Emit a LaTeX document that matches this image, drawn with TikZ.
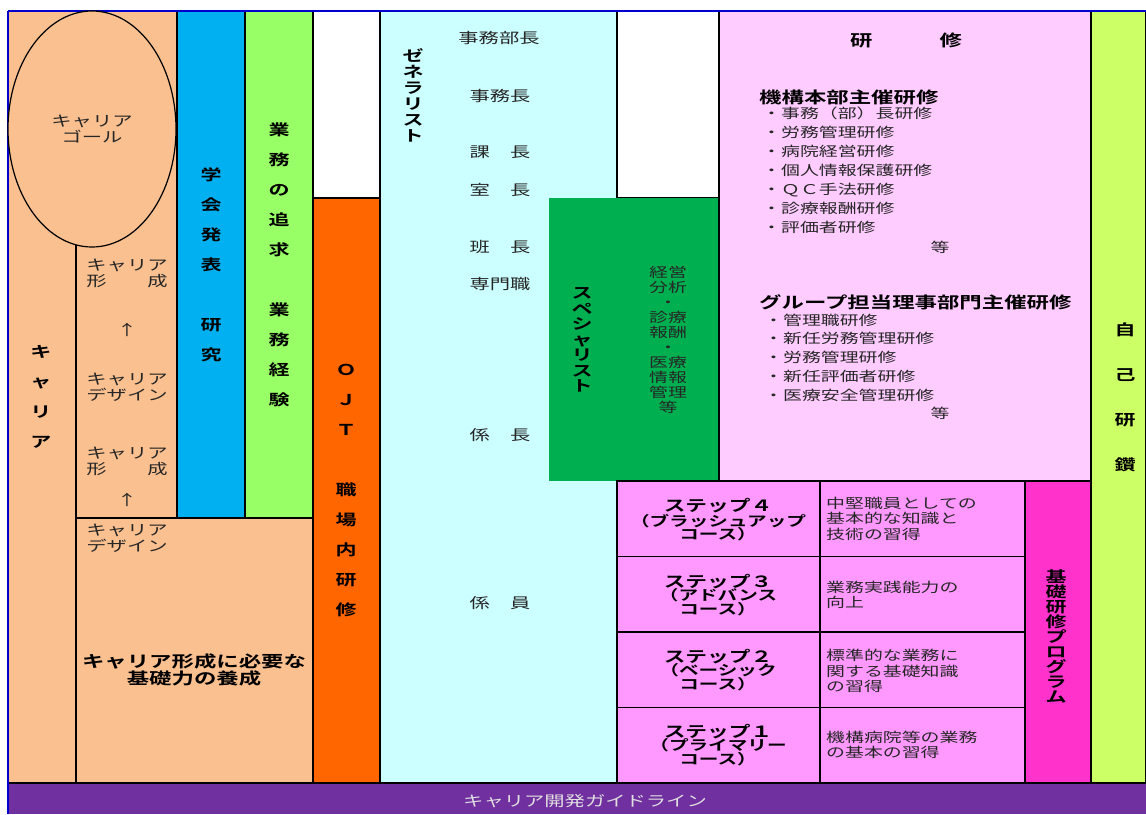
\documentclass[tikz,border=0pt]{standalone}
\usepackage{fontspec}
\usetikzlibrary{shapes.geometric}
\newfontfamily\jp[FakeStretch=1.4,BoldFont={* Bold}]{Noto Sans CJK JP}
\definecolor{peach}{HTML}{FAC090}
\definecolor{skyb}{HTML}{00B0F0}
\definecolor{lgreen}{HTML}{99FF66}
\definecolor{orng}{HTML}{FF6600}
\definecolor{cyanl}{HTML}{CCFFFF}
\definecolor{sgreen}{HTML}{00B050}
\definecolor{pinkl}{HTML}{FFCCFF}
\definecolor{ygreen}{HTML}{CCFF66}
\definecolor{stepc}{HTML}{FF99FF}
\definecolor{mag}{HTML}{FF33CC}
\definecolor{purp}{HTML}{7030A0}
\definecolor{dblue}{HTML}{0000CC}
\tikzset{
  base/.style={inner sep=0pt, align=center},
  reg/.style={base, font=\jp\fontsize{14.5}{#1}\selectfont, text=black!85},
  reg/.default=16,
  regs/.style={base, font=\jp\fontsize{13.5}{#1}\selectfont, text=black!85},
  regs/.default=15.5,
  bld/.style={base, font=\jp\bfseries\fontsize{16}{#1}\selectfont},
  bld/.default=14,
  vb/.style={base, font=\jp\bfseries\fontsize{15}{#1}\selectfont},
  stp/.style={base, font=\jp\bfseries\fontsize{14}{13.5}\selectfont},
  bx/.style={draw=black, line width=1.5pt},
  bxt/.style={draw=black, line width=2.5pt},
}
\newcommand{\stepttl}[1]{{\fontsize{15.5}{13.5}\selectfont #1}}
\begin{document}
\begin{tikzpicture}[x=1pt,y=-1pt]
\useasboundingbox (0,0) rectangle (1146,814);
\fill[white] (0,0) rectangle (1146,814);
% left career columns
\fill[peach] (8,11) rectangle (313,783);
\draw[bx] (76,129) -- (76,783);
\draw[bx] (76,518) -- (313,518);
\filldraw[bx, fill=skyb] (177,11) rectangle (245,518);
\filldraw[bx, fill=lgreen] (245,11) rectangle (313,518);
\filldraw[bx, fill=orng] (313,198) rectangle (380,783);
% generalist
\filldraw[bxt, fill=cyanl] (380,11) rectangle (617,783);
\filldraw[bx, fill=white] (617,11) rectangle (719,198);
\fill[sgreen] (549,198) rectangle (719,481);
% training
\filldraw[bxt, fill=pinkl] (719,11) rectangle (1091,481);
\filldraw[bxt, fill=ygreen] (1091,11) rectangle (1146,783);
% steps
\foreach \ya/\yb in {481/556.5, 556.5/632, 632/707.5, 707.5/783}{
  \filldraw[bx, fill=stepc] (617,\ya) rectangle (820,\yb);
  \filldraw[bx, fill=stepc] (820,\ya) rectangle (1025,\yb);
}
\filldraw[bxt, fill=mag] (1025,481) rectangle (1091,783);
% bottom bar
\fill[purp] (8,783) rectangle (1146,814);
\draw[line width=2pt] (8,783) -- (1146,783);
\draw[dblue, line width=1.2pt] (8,11) -- (1146,11);
\draw[dblue, line width=2pt] (8,11) -- (8,814);
% goal ellipse
\node[ellipse, draw=black, line width=1.2pt, fill=peach, minimum width=168pt, minimum height=236pt, inner sep=0pt] (goal) at (92,129) {};
\node[reg] (goalt) at (92,129) {キャリア\\ゴール};
% column texts
\node[vb=30] (ca) at (41,397) {キ\\ャ\\リ\\ア};
\node[reg] (b1) at (127,273) {キャリア\\形　　成};
\node[reg] (b2) at (127,330) {↑};
\node[reg] (b3) at (127,387) {キャリア\\デザイン};
\node[reg] (b4) at (127,461) {キャリア\\形　　成};
\node[reg] (b5) at (127,500) {↑};
\node[reg] (b6) at (127,538) {キャリア\\デザイン};
\node[bld] (b7) at (194,670) {キャリア形成に必要な\\基礎力の養成};
\node[vb=30] (blu) at (211,265) {学\\会\\発\\表\\[30pt]研\\究};
\node[vb=30] (grn) at (279,265) {業\\務\\の\\追\\求\\[30pt]業\\務\\経\\験};
\node[vb=30] (ojt) at (346,490) {Ｏ\\Ｊ\\Ｔ\\[30pt]職\\場\\内\\研\\修};
% generalist texts
\node[vb=16] (gen) at (413,95) {ゼ\\ネ\\ラ\\リ\\ス\\ト};
\node[reg] (c1) at (499,38) {事務部長};
\node[reg] (c2) at (500,96) {事務長};
\node[reg] (c3) at (500,152) {課　長};
\node[reg] (c4) at (500,190) {室　長};
\node[reg] (c5) at (500,247) {班　長};
\node[reg] (c6) at (500,284) {専門職};
\node[reg] (c7) at (500,435) {係　長};
\node[reg] (c8) at (500,603) {係　員};
% specialist
\node[vb=15.5] (spc) at (582,340) {ス\\ペ\\シ\\ャ\\リ\\ス\\ト};
\node[regs=15] (spt) at (668,340) {経営\\分析\\・\\診療\\報酬\\・\\医療\\情報\\管理\\等};
% training texts
\node[bld] (k0) at (906,40) {研　　　修};
\node[bld, anchor=west] (k1) at (759,97) {機構本部主催研修};
\node[regs=19, anchor=west, align=left] (k2) at (762,170) {・事務（部）長研修\\・労務管理研修\\・病院経営研修\\・個人情報保護研修\\・ＱＣ手法研修\\・診療報酬研修\\・評価者研修};
\node[regs] (k3) at (940,247) {等};
\node[bld, anchor=west] (k4) at (759,302) {グループ担当理事部門主催研修};
\node[regs=18.75, anchor=west, align=left] (k5) at (764,357.5) {・管理職研修\\・新任労務管理研修\\・労務管理研修\\・新任評価者研修\\・医療安全管理研修};
\node[regs] (k6) at (940,413) {等};
\node[vb=45] (self) at (1125,397) {自\\己\\研\\鑽};
% steps texts
\node[stp] (s4) at (718,520) {\stepttl{ステップ４}\\（ブラッシュアップ\\コース）};
\node[stp] (s3) at (718,595) {\stepttl{ステップ３}\\（アドバンス\\コース）};
\node[stp] (s2) at (718,670) {\stepttl{ステップ２}\\（ベーシック\\コース）};
\node[stp] (s1) at (718,745) {\stepttl{ステップ１}\\（プライマリー\\コース）};
\node[regs, anchor=west, align=left] (d4) at (826,518.5) {中堅職員としての\\基本的な知識と\\技術の習得};
\node[regs, anchor=west, align=left] (d3) at (826,595) {業務実践能力の\\向上};
\node[regs, anchor=west, align=left] (d2) at (826,671) {標準的な業務に\\関する基礎知識\\の習得};
\node[regs, anchor=west, align=left] (d1) at (826,745) {機構病院等の業務\\の基本の習得};
\node[vb=15] (kiso) at (1056,636) {基\\礎\\研\\修\\プ\\ロ\\グ\\ラ\\ム};
% bottom
\node[reg, text=white!88!black] (guide) at (585,801) {キャリア開発ガイドライン};
\end{tikzpicture}
\end{document}
